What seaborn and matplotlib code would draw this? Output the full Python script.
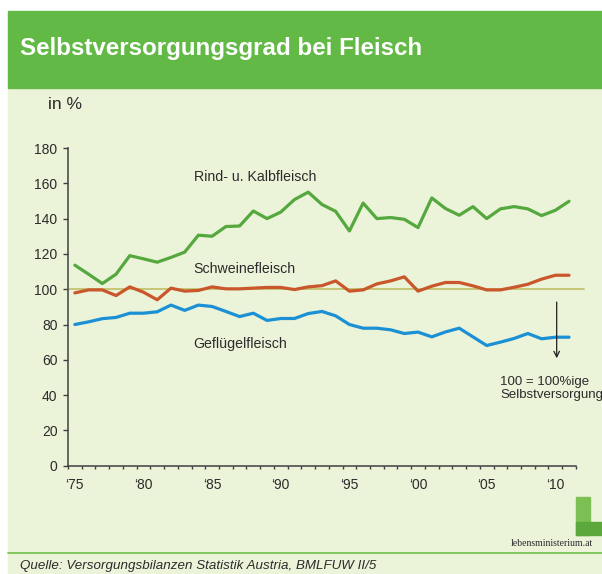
import matplotlib
matplotlib.use("Agg")
import matplotlib.pyplot as plt
import matplotlib.patches as mpatches
import numpy as np
import pandas as pd
import seaborn as sns

# data
years = list(range(1975, 2012))
rind = [113.6, 108.5, 103.2, 108.5, 119.0, 117.2, 115.3, 118.0, 121.0, 130.6,
        130.0, 135.5, 135.8, 144.3, 140.0, 143.7, 150.8, 155.0, 148.0, 144.1,
        133.0, 148.8, 140.0, 140.6, 139.6, 134.9, 151.7, 145.7, 141.9, 146.8,
        140.0, 145.5, 146.8, 145.5, 141.7, 144.7, 149.8]
schwein = [97.9, 99.6, 99.6, 96.4, 101.3, 98.3, 94.0, 100.6, 98.9, 99.3,
           101.3, 100.2, 100.2, 100.6, 101.0, 101.0, 99.8, 101.3, 102.0, 104.7,
           98.9, 99.6, 103.0, 104.7, 107.0, 98.9, 101.7, 103.8, 103.8, 101.9,
           99.6, 99.6, 101.1, 102.8, 105.7, 107.9, 107.9]
gefluegel = [80.0, 81.5, 83.3, 84.0, 86.4, 86.4, 87.2, 91.0, 88.0, 91.0,
             90.2, 87.4, 84.5, 86.4, 82.3, 83.4, 83.4, 86.2, 87.4, 84.9,
             80.0, 77.9, 77.9, 77.0, 74.9, 75.7, 73.0, 75.8, 77.9, 73.0,
             68.1, 70.0, 72.1, 74.9, 71.9, 72.8, 72.8]
tick_years = [1975, 1980, 1985, 1990, 1995, 2000, 2005, 2010]
tick_labels = ["\u201875", "\u201880", "\u201885", "\u201890", "\u201895", "\u201800", "\u201805", "\u201810"]

df = pd.DataFrame({"Jahr": years, "Rind": rind, "Schwein": schwein, "Gefluegel": gefluegel})

BG = "#ebf3d9"
HEAD = "#63b946"
TXT = "#2b2b2b"

sns.set_style("white")
plt.rcParams["font.family"] = ["Liberation Sans", "DejaVu Sans"]

W, H = 602, 574
fig = plt.figure(figsize=(W / 100, H / 100), dpi=100)
fig.patch.set_facecolor("white")

def fx(px):
    return px / W

def fy(py):
    return 1 - py / H

# panel background, header band, separator
fig.patches.append(mpatches.Rectangle((fx(8), 0), 1, fy(88), transform=fig.transFigure,
                                      color=BG, zorder=-2))
fig.patches.append(mpatches.Rectangle((fx(8), fy(88)), 1, (88 - 11) / H, transform=fig.transFigure,
                                      color=HEAD, zorder=-2))
fig.lines.append(plt.Line2D([fx(8), 1], [fy(553), fy(553)], transform=fig.transFigure,
                            color="#6cc04a", lw=1.2, zorder=-1))

fig.text(fx(20), fy(49), "Selbstversorgungsgrad bei Fleisch", color="white", fontsize=17.4,
         fontweight="bold", va="center", ha="left")
fig.text(fx(48), fy(105), "in %", color=TXT, fontsize=12.5, va="center", ha="left")
fig.text(fx(20), fy(566), "Quelle: Versorgungsbilanzen Statistik Austria, BMLFUW II/5",
         color=TXT, fontsize=9.6, style="italic", va="center", ha="left")

# logo
fig.patches.append(mpatches.Rectangle((fx(576), fy(535)), 14 / W, 38 / H, transform=fig.transFigure,
                                      color="#7cbf52", zorder=-1))
fig.patches.append(mpatches.Rectangle((fx(576), fy(535)), 26 / W, 13 / H, transform=fig.transFigure,
                                      color="#5da83c", zorder=-1))
fig.text(fx(552), fy(543), "lebensministerium.at", family="Liberation Serif", fontsize=7,
         color=TXT, ha="center", va="center")

ax = fig.add_axes([fx(68), fy(465.7), (575.9 - 68) / W, (465.7 - 148) / H])
ax.set_zorder(2)
ax.patch.set_alpha(0)

ax.plot([1974.5, 2012.1], [100, 100], color="#c3c46e", lw=1.3, zorder=1, clip_on=False)
sns.lineplot(data=df, x="Jahr", y="Rind", ax=ax, color="#55a83d", lw=2.3, zorder=3)
sns.lineplot(data=df, x="Jahr", y="Schwein", ax=ax, color="#c9572b", lw=2.3, zorder=3)
sns.lineplot(data=df, x="Jahr", y="Gefluegel", ax=ax, color="#1b90d4", lw=2.3, zorder=3)

ax.set_xlim(1974.5, 2011.5)
ax.set_ylim(0, 180)
ax.set_xlabel("")
ax.set_ylabel("")
ax.set_xticks(tick_years)
ax.set_xticklabels(tick_labels)
ax.set_xticks(np.arange(1974.5, 2012, 1), minor=True)
ax.set_yticks(range(0, 181, 20))
ax.tick_params(axis="x", which="major", length=0, pad=9, labelsize=10, labelcolor=TXT)
ax.tick_params(axis="x", which="minor", length=2.5, width=1, direction="out", color="#404040", bottom=True)
ax.tick_params(axis="y", length=3.5, width=1, direction="out", color="#404040", pad=4,
               labelsize=10, labelcolor=TXT, left=True)
for s in ["top", "right"]:
    ax.spines[s].set_visible(False)
for s in ["left", "bottom"]:
    ax.spines[s].set_color("#404040")
    ax.spines[s].set_linewidth(1.1)

ax.text(1983.65, 163.5, "Rind- u. Kalbfleisch", fontsize=10.2, color=TXT, va="center", ha="left")
ax.text(1983.65, 111.5, "Schweinefleisch", fontsize=10.2, color=TXT, va="center", ha="left")
ax.text(1983.65, 68.8, "Gefl\u00fcgelfleisch", fontsize=10.2, color=TXT, va="center", ha="left")

ax.annotate("", xy=(2010.1, 59.3), xytext=(2010.1, 94.3),
            arrowprops=dict(arrowstyle="->", color="#222222", lw=0.9))
ax.text(2006.0, 51, "100 = 100%ige\nSelbstversorgung", fontsize=9.5, color=TXT, va="top", ha="left",
        linespacing=1.15, clip_on=False)

fig.savefig("out.png", dpi=100)
